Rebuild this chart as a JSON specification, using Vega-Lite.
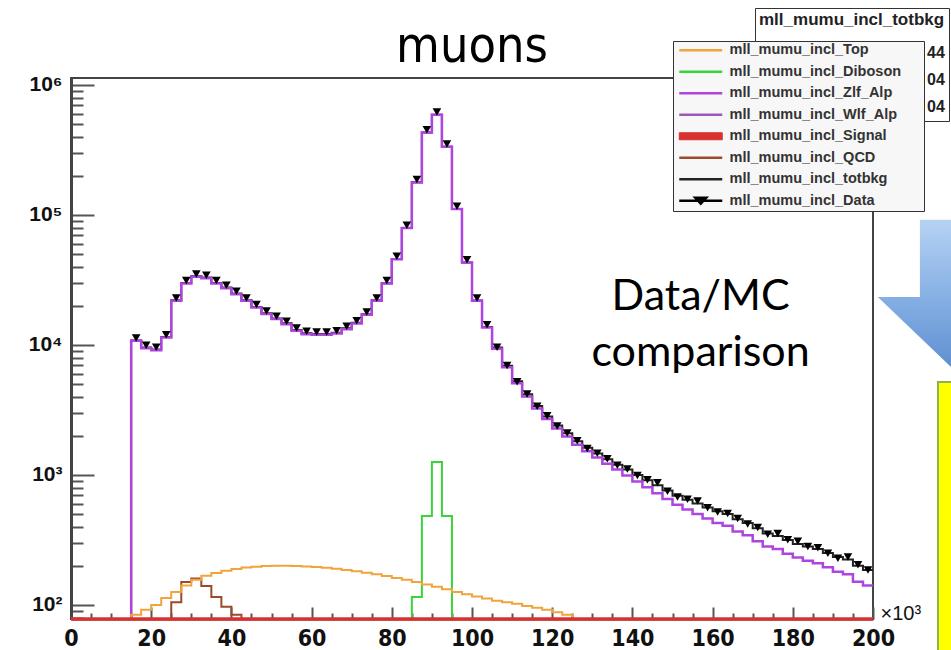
{
  "$schema": "https://vega.github.io/schema/vega-lite/v6.json",
  "width": 802,
  "height": 541,
  "autosize": {"type": "none"},
  "padding": {"left": 71, "top": 78, "right": 78, "bottom": 31},
  "background": "white",
  "title": {"text": "muons", "font": "DejaVu Sans Condensed, Liberation Sans Narrow, sans-serif", "fontSize": 50, "fontWeight": "normal", "color": "#000", "anchor": "middle", "frame": "group", "baseline": "alphabetic", "offset": 15, "dy": 119},
  "datasets": {
    "hist": [
      {"series":"mll_mumu_incl_Signal","x":0,"y":78},{"series":"mll_mumu_incl_Signal","x":200,"y":78},
      {"series":"mll_mumu_incl_QCD","x":25,"y":78},{"series":"mll_mumu_incl_QCD","x":25,"y":105},{"series":"mll_mumu_incl_QCD","x":27.5,"y":150},{"series":"mll_mumu_incl_QCD","x":30,"y":160},{"series":"mll_mumu_incl_QCD","x":32.5,"y":140},{"series":"mll_mumu_incl_QCD","x":35,"y":115},{"series":"mll_mumu_incl_QCD","x":37.5,"y":97},{"series":"mll_mumu_incl_QCD","x":40,"y":84},{"series":"mll_mumu_incl_QCD","x":42.5,"y":78},
      {"series":"mll_mumu_incl_Diboson","x":85,"y":78},{"series":"mll_mumu_incl_Diboson","x":85,"y":115},{"series":"mll_mumu_incl_Diboson","x":87.5,"y":484},{"series":"mll_mumu_incl_Diboson","x":90,"y":1260},{"series":"mll_mumu_incl_Diboson","x":92.5,"y":484},{"series":"mll_mumu_incl_Diboson","x":95,"y":78},
      {"series":"mll_mumu_incl_Top","x":15,"y":78},{"series":"mll_mumu_incl_Top","x":15,"y":84},{"series":"mll_mumu_incl_Top","x":17.5,"y":92},{"series":"mll_mumu_incl_Top","x":20,"y":100},{"series":"mll_mumu_incl_Top","x":22.5,"y":113},{"series":"mll_mumu_incl_Top","x":25,"y":126},{"series":"mll_mumu_incl_Top","x":27.5,"y":141},{"series":"mll_mumu_incl_Top","x":30,"y":156},{"series":"mll_mumu_incl_Top","x":32.5,"y":168},{"series":"mll_mumu_incl_Top","x":35,"y":176},{"series":"mll_mumu_incl_Top","x":37.5,"y":183},{"series":"mll_mumu_incl_Top","x":40,"y":189},{"series":"mll_mumu_incl_Top","x":42.5,"y":194},{"series":"mll_mumu_incl_Top","x":45,"y":197},{"series":"mll_mumu_incl_Top","x":47.5,"y":199},{"series":"mll_mumu_incl_Top","x":50,"y":200},{"series":"mll_mumu_incl_Top","x":52.5,"y":200},{"series":"mll_mumu_incl_Top","x":55,"y":199},{"series":"mll_mumu_incl_Top","x":57.5,"y":198},{"series":"mll_mumu_incl_Top","x":60,"y":196},{"series":"mll_mumu_incl_Top","x":62.5,"y":193},{"series":"mll_mumu_incl_Top","x":65,"y":190},{"series":"mll_mumu_incl_Top","x":67.5,"y":186},{"series":"mll_mumu_incl_Top","x":70,"y":182},{"series":"mll_mumu_incl_Top","x":72.5,"y":177},{"series":"mll_mumu_incl_Top","x":75,"y":172},{"series":"mll_mumu_incl_Top","x":77.5,"y":167},{"series":"mll_mumu_incl_Top","x":80,"y":161},{"series":"mll_mumu_incl_Top","x":82.5,"y":156},{"series":"mll_mumu_incl_Top","x":85,"y":150},{"series":"mll_mumu_incl_Top","x":87.5,"y":144},{"series":"mll_mumu_incl_Top","x":90,"y":138},{"series":"mll_mumu_incl_Top","x":92.5,"y":132},{"series":"mll_mumu_incl_Top","x":95,"y":126},{"series":"mll_mumu_incl_Top","x":97.5,"y":121},{"series":"mll_mumu_incl_Top","x":100,"y":116},{"series":"mll_mumu_incl_Top","x":102.5,"y":112},{"series":"mll_mumu_incl_Top","x":105,"y":108},{"series":"mll_mumu_incl_Top","x":107.5,"y":105},{"series":"mll_mumu_incl_Top","x":110,"y":102},{"series":"mll_mumu_incl_Top","x":112.5,"y":98},{"series":"mll_mumu_incl_Top","x":115,"y":95},{"series":"mll_mumu_incl_Top","x":117.5,"y":92},{"series":"mll_mumu_incl_Top","x":120,"y":88},{"series":"mll_mumu_incl_Top","x":122.5,"y":84},{"series":"mll_mumu_incl_Top","x":125,"y":78},
      {"series":"mll_mumu_incl_Zlf_Alp","x":15,"y":78},{"series":"mll_mumu_incl_Zlf_Alp","x":15,"y":10750},{"series":"mll_mumu_incl_Zlf_Alp","x":17.5,"y":9450},{"series":"mll_mumu_incl_Zlf_Alp","x":20,"y":9110},{"series":"mll_mumu_incl_Zlf_Alp","x":22.5,"y":11400},{"series":"mll_mumu_incl_Zlf_Alp","x":25,"y":21850},{"series":"mll_mumu_incl_Zlf_Alp","x":27.5,"y":29700},{"series":"mll_mumu_incl_Zlf_Alp","x":30,"y":33400},{"series":"mll_mumu_incl_Zlf_Alp","x":32.5,"y":32640},{"series":"mll_mumu_incl_Zlf_Alp","x":35,"y":29700},{"series":"mll_mumu_incl_Zlf_Alp","x":37.5,"y":27330},{"series":"mll_mumu_incl_Zlf_Alp","x":40,"y":24590},{"series":"mll_mumu_incl_Zlf_Alp","x":42.5,"y":21860},{"series":"mll_mumu_incl_Zlf_Alp","x":45,"y":19400},{"series":"mll_mumu_incl_Zlf_Alp","x":47.5,"y":17290},{"series":"mll_mumu_incl_Zlf_Alp","x":50,"y":15800},{"series":"mll_mumu_incl_Zlf_Alp","x":52.5,"y":14450},{"series":"mll_mumu_incl_Zlf_Alp","x":55,"y":12840},{"series":"mll_mumu_incl_Zlf_Alp","x":57.5,"y":12100},{"series":"mll_mumu_incl_Zlf_Alp","x":60,"y":11960},{"series":"mll_mumu_incl_Zlf_Alp","x":62.5,"y":11960},{"series":"mll_mumu_incl_Zlf_Alp","x":65,"y":12240},{"series":"mll_mumu_incl_Zlf_Alp","x":67.5,"y":13230},{"series":"mll_mumu_incl_Zlf_Alp","x":70,"y":14610},{"series":"mll_mumu_incl_Zlf_Alp","x":72.5,"y":17050},{"series":"mll_mumu_incl_Zlf_Alp","x":75,"y":21860},{"series":"mll_mumu_incl_Zlf_Alp","x":77.5,"y":29700},{"series":"mll_mumu_incl_Zlf_Alp","x":80,"y":45680},{"series":"mll_mumu_incl_Zlf_Alp","x":82.5,"y":79200},{"series":"mll_mumu_incl_Zlf_Alp","x":85,"y":177700},{"series":"mll_mumu_incl_Zlf_Alp","x":87.5,"y":430300},{"series":"mll_mumu_incl_Zlf_Alp","x":90,"y":588400},{"series":"mll_mumu_incl_Zlf_Alp","x":92.5,"y":334000},{"series":"mll_mumu_incl_Zlf_Alp","x":95,"y":110900},{"series":"mll_mumu_incl_Zlf_Alp","x":97.5,"y":43030},{"series":"mll_mumu_incl_Zlf_Alp","x":100,"y":21860},{"series":"mll_mumu_incl_Zlf_Alp","x":102.5,"y":13600},{"series":"mll_mumu_incl_Zlf_Alp","x":105,"y":9330},{"series":"mll_mumu_incl_Zlf_Alp","x":107.5,"y":6730},{"series":"mll_mumu_incl_Zlf_Alp","x":110,"y":5080},{"series":"mll_mumu_incl_Zlf_Alp","x":112.5,"y":4020},{"series":"mll_mumu_incl_Zlf_Alp","x":115,"y":3250},{"series":"mll_mumu_incl_Zlf_Alp","x":117.5,"y":2690},{"series":"mll_mumu_incl_Zlf_Alp","x":120,"y":2280},{"series":"mll_mumu_incl_Zlf_Alp","x":122.5,"y":1980},{"series":"mll_mumu_incl_Zlf_Alp","x":125,"y":1710},{"series":"mll_mumu_incl_Zlf_Alp","x":127.5,"y":1520},{"series":"mll_mumu_incl_Zlf_Alp","x":130,"y":1365},{"series":"mll_mumu_incl_Zlf_Alp","x":132.5,"y":1220},{"series":"mll_mumu_incl_Zlf_Alp","x":135,"y":1100},{"series":"mll_mumu_incl_Zlf_Alp","x":137.5,"y":990},{"series":"mll_mumu_incl_Zlf_Alp","x":140,"y":890},{"series":"mll_mumu_incl_Zlf_Alp","x":142.5,"y":804},{"series":"mll_mumu_incl_Zlf_Alp","x":145,"y":724},{"series":"mll_mumu_incl_Zlf_Alp","x":147.5,"y":653},{"series":"mll_mumu_incl_Zlf_Alp","x":150,"y":589},{"series":"mll_mumu_incl_Zlf_Alp","x":152.5,"y":543},{"series":"mll_mumu_incl_Zlf_Alp","x":155,"y":501},{"series":"mll_mumu_incl_Zlf_Alp","x":157.5,"y":462},{"series":"mll_mumu_incl_Zlf_Alp","x":160,"y":427},{"series":"mll_mumu_incl_Zlf_Alp","x":162.5,"y":407},{"series":"mll_mumu_incl_Zlf_Alp","x":165,"y":367},{"series":"mll_mumu_incl_Zlf_Alp","x":167.5,"y":343},{"series":"mll_mumu_incl_Zlf_Alp","x":170,"y":309},{"series":"mll_mumu_incl_Zlf_Alp","x":172.5,"y":282},{"series":"mll_mumu_incl_Zlf_Alp","x":175,"y":269},{"series":"mll_mumu_incl_Zlf_Alp","x":177.5,"y":248},{"series":"mll_mumu_incl_Zlf_Alp","x":180,"y":232},{"series":"mll_mumu_incl_Zlf_Alp","x":182.5,"y":219},{"series":"mll_mumu_incl_Zlf_Alp","x":185,"y":209},{"series":"mll_mumu_incl_Zlf_Alp","x":187.5,"y":195},{"series":"mll_mumu_incl_Zlf_Alp","x":190,"y":180},{"series":"mll_mumu_incl_Zlf_Alp","x":192.5,"y":172},{"series":"mll_mumu_incl_Zlf_Alp","x":195,"y":151},{"series":"mll_mumu_incl_Zlf_Alp","x":197.5,"y":141},{"series":"mll_mumu_incl_Zlf_Alp","x":200,"y":141},
      {"series":"mll_mumu_incl_totbkg","x":15,"y":78},{"series":"mll_mumu_incl_totbkg","x":15,"y":10830},{"series":"mll_mumu_incl_totbkg","x":17.5,"y":9540},{"series":"mll_mumu_incl_totbkg","x":20,"y":9210},{"series":"mll_mumu_incl_totbkg","x":22.5,"y":11510},{"series":"mll_mumu_incl_totbkg","x":25,"y":22080},{"series":"mll_mumu_incl_totbkg","x":27.5,"y":29990},{"series":"mll_mumu_incl_totbkg","x":30,"y":33720},{"series":"mll_mumu_incl_totbkg","x":32.5,"y":32950},{"series":"mll_mumu_incl_totbkg","x":35,"y":29990},{"series":"mll_mumu_incl_totbkg","x":37.5,"y":27610},{"series":"mll_mumu_incl_totbkg","x":40,"y":24860},{"series":"mll_mumu_incl_totbkg","x":42.5,"y":22050},{"series":"mll_mumu_incl_totbkg","x":45,"y":19600},{"series":"mll_mumu_incl_totbkg","x":47.5,"y":17490},{"series":"mll_mumu_incl_totbkg","x":50,"y":16000},{"series":"mll_mumu_incl_totbkg","x":52.5,"y":14650},{"series":"mll_mumu_incl_totbkg","x":55,"y":13040},{"series":"mll_mumu_incl_totbkg","x":57.5,"y":12300},{"series":"mll_mumu_incl_totbkg","x":60,"y":12160},{"series":"mll_mumu_incl_totbkg","x":62.5,"y":12150},{"series":"mll_mumu_incl_totbkg","x":65,"y":12430},{"series":"mll_mumu_incl_totbkg","x":67.5,"y":13420},{"series":"mll_mumu_incl_totbkg","x":70,"y":14790},{"series":"mll_mumu_incl_totbkg","x":72.5,"y":17230},{"series":"mll_mumu_incl_totbkg","x":75,"y":22030},{"series":"mll_mumu_incl_totbkg","x":77.5,"y":29870},{"series":"mll_mumu_incl_totbkg","x":80,"y":45840},{"series":"mll_mumu_incl_totbkg","x":82.5,"y":79360},{"series":"mll_mumu_incl_totbkg","x":85,"y":177970},{"series":"mll_mumu_incl_totbkg","x":87.5,"y":430930},{"series":"mll_mumu_incl_totbkg","x":90,"y":589800},{"series":"mll_mumu_incl_totbkg","x":92.5,"y":334620},{"series":"mll_mumu_incl_totbkg","x":95,"y":111030},{"series":"mll_mumu_incl_totbkg","x":97.5,"y":43150},{"series":"mll_mumu_incl_totbkg","x":100,"y":21980},{"series":"mll_mumu_incl_totbkg","x":102.5,"y":13710},{"series":"mll_mumu_incl_totbkg","x":105,"y":9550},{"series":"mll_mumu_incl_totbkg","x":107.5,"y":6920},{"series":"mll_mumu_incl_totbkg","x":110,"y":5250},{"series":"mll_mumu_incl_totbkg","x":112.5,"y":4170},{"series":"mll_mumu_incl_totbkg","x":115,"y":3390},{"series":"mll_mumu_incl_totbkg","x":117.5,"y":2820},{"series":"mll_mumu_incl_totbkg","x":120,"y":2400},{"series":"mll_mumu_incl_totbkg","x":122.5,"y":2090},{"series":"mll_mumu_incl_totbkg","x":125,"y":1820},{"series":"mll_mumu_incl_totbkg","x":127.5,"y":1620},{"series":"mll_mumu_incl_totbkg","x":130,"y":1460},{"series":"mll_mumu_incl_totbkg","x":132.5,"y":1320},{"series":"mll_mumu_incl_totbkg","x":135,"y":1200},{"series":"mll_mumu_incl_totbkg","x":137.5,"y":1100},{"series":"mll_mumu_incl_totbkg","x":140,"y":1000},{"series":"mll_mumu_incl_totbkg","x":142.5,"y":912},{"series":"mll_mumu_incl_totbkg","x":145,"y":832},{"series":"mll_mumu_incl_totbkg","x":147.5,"y":759},{"series":"mll_mumu_incl_totbkg","x":150,"y":692},{"series":"mll_mumu_incl_totbkg","x":152.5,"y":646},{"series":"mll_mumu_incl_totbkg","x":155,"y":603},{"series":"mll_mumu_incl_totbkg","x":157.5,"y":562},{"series":"mll_mumu_incl_totbkg","x":160,"y":525},{"series":"mll_mumu_incl_totbkg","x":162.5,"y":501},{"series":"mll_mumu_incl_totbkg","x":165,"y":457},{"series":"mll_mumu_incl_totbkg","x":167.5,"y":427},{"series":"mll_mumu_incl_totbkg","x":170,"y":389},{"series":"mll_mumu_incl_totbkg","x":172.5,"y":355},{"series":"mll_mumu_incl_totbkg","x":175,"y":339},{"series":"mll_mumu_incl_totbkg","x":177.5,"y":316},{"series":"mll_mumu_incl_totbkg","x":180,"y":295},{"series":"mll_mumu_incl_totbkg","x":182.5,"y":282},{"series":"mll_mumu_incl_totbkg","x":185,"y":269},{"series":"mll_mumu_incl_totbkg","x":187.5,"y":251},{"series":"mll_mumu_incl_totbkg","x":190,"y":234},{"series":"mll_mumu_incl_totbkg","x":192.5,"y":224},{"series":"mll_mumu_incl_totbkg","x":195,"y":200},{"series":"mll_mumu_incl_totbkg","x":197.5,"y":186},{"series":"mll_mumu_incl_totbkg","x":200,"y":186}
    ],
    "points": [
      {"x":16.25,"y":11320},{"x":18.75,"y":9950},{"x":21.25,"y":9590},{"x":23.75,"y":12000},{"x":26.25,"y":23000},{"x":28.75,"y":31260},{"x":31.25,"y":35160},{"x":33.75,"y":34360},{"x":36.25,"y":31260},{"x":38.75,"y":28770},{"x":41.25,"y":25880},{"x":43.75,"y":23010},{"x":46.25,"y":20420},{"x":48.75,"y":18200},{"x":51.25,"y":16630},{"x":53.75,"y":15210},{"x":56.25,"y":13520},{"x":58.75,"y":12740},{"x":61.25,"y":12590},{"x":63.75,"y":12590},{"x":66.25,"y":12880},{"x":68.75,"y":13930},{"x":71.25,"y":15380},{"x":73.75,"y":17950},{"x":76.25,"y":23010},{"x":78.75,"y":31260},{"x":81.25,"y":48080},{"x":83.75,"y":83370},{"x":86.25,"y":187100},{"x":88.75,"y":452900},{"x":91.25,"y":619400},{"x":93.75,"y":351600},{"x":96.25,"y":116700},{"x":98.75,"y":45290},{"x":101.25,"y":23010},{"x":103.75,"y":14320},
      {"x":106.25,"y":9600},{"x":108.75,"y":6950},{"x":111.25,"y":5200},{"x":113.75,"y":4200},{"x":116.25,"y":3380},{"x":118.75,"y":2850},{"x":121.25,"y":2380},{"x":123.75,"y":2100},{"x":126.25,"y":1830},{"x":128.75,"y":1600},{"x":131.25,"y":1470},{"x":133.75,"y":1330},{"x":136.25,"y":1190},{"x":138.75,"y":1110},{"x":141.25,"y":990},{"x":143.75,"y":920},{"x":146.25,"y":871},{"x":148.75,"y":750},{"x":151.25,"y":676},{"x":153.75,"y":650},{"x":156.25,"y":631},{"x":158.75,"y":560},{"x":161.25,"y":520},{"x":163.75,"y":505},{"x":166.25,"y":462},{"x":168.75,"y":420},{"x":171.25,"y":395},{"x":173.75,"y":350},{"x":176.25,"y":355},{"x":178.75,"y":318},{"x":181.25,"y":309},{"x":183.75,"y":282},{"x":186.25,"y":275},{"x":188.75,"y":250},{"x":191.25,"y":229},{"x":193.75,"y":234},{"x":196.25,"y":204},{"x":198.75,"y":186}
    ],
    "stats": [{"stat": "Entries"}, {"stat": "Mean"}, {"stat": "RMS"}],
    "note": [{"label": "Data/MC\ncomparison", "x": 157, "y": 18600}],
    "arrowBody": [{"x": 211.7, "x2": 230, "y": 91600, "y2": 23400}],
    "arrowHead": [{"x": 201.2, "y": 23400, "y2": 23400}, {"x": 230, "y": 23400, "y2": 3300}],
    "yellow": [{"x": 216.2, "x2": 230, "y": 5190, "y2": 40}]
  },
  "layer": [
    {
      "data": {"name": "yellow"},
      "mark": {"type": "rect", "fill": "#ffff00", "stroke": "#8fb04c", "strokeWidth": 2},
      "encoding": {
        "x": {"field": "x", "type": "quantitative", "scale": {"domain": [0, 200], "nice": false}},
        "x2": {"field": "x2"},
        "y": {"field": "y", "type": "quantitative", "scale": {"type": "log", "domain": [78, 1130000], "nice": false}},
        "y2": {"field": "y2"}
      }
    },
    {
      "data": {"name": "arrowBody"},
      "mark": {"type": "rect", "color": {"gradient": "linear", "x1": 0, "y1": 0, "x2": 0, "y2": 1, "stops": [{"offset": 0, "color": "#b6d2f3"}, {"offset": 1, "color": "#86b0e4"}]}},
      "encoding": {
        "x": {"field": "x", "type": "quantitative", "scale": {"domain": [0, 200], "nice": false}},
        "x2": {"field": "x2"},
        "y": {"field": "y", "type": "quantitative", "scale": {"type": "log", "domain": [78, 1130000], "nice": false}},
        "y2": {"field": "y2"}
      }
    },
    {
      "data": {"name": "arrowHead"},
      "mark": {"type": "area", "color": {"gradient": "linear", "x1": 0, "y1": 0, "x2": 0, "y2": 1, "stops": [{"offset": 0, "color": "#86b0e4"}, {"offset": 1, "color": "#4a7dc6"}]}},
      "encoding": {
        "x": {"field": "x", "type": "quantitative", "scale": {"domain": [0, 200], "nice": false}},
        "y": {"field": "y", "type": "quantitative", "scale": {"type": "log", "domain": [78, 1130000], "nice": false}},
        "y2": {"field": "y2"}
      }
    },
    {
      "data": {"name": "hist"},
      "transform": [{"filter": "datum.series === 'mll_mumu_incl_totbkg'"}],
      "mark": {"type": "line", "interpolate": "step-after", "strokeWidth": 2},
      "encoding": {
        "x": {"field": "x", "type": "quantitative", "scale": {"domain": [0, 200], "nice": false},
          "axis": {"orient": "bottom", "tickCount": 500, "values": [0,5,10,15,20,25,30,35,40,45,50,55,60,65,70,75,80,85,90,95,100,105,110,115,120,125,130,135,140,145,150,155,160,165,170,175,180,185,190,195,200],
            "format": "d", "labelExpr": "indexof([0,20,40,60,80,100,120,140,160,180,200], datum.value) >= 0 ? datum.label : ''",
            "tickSize": {"condition": {"test": "indexof([0,20,40,60,80,100,120,140,160,180,200], datum.value) >= 0", "value": -12}, "value": -6},
            "tickColor": "#555", "tickWidth": 2, "domainColor": "#444", "domainWidth": 2, "grid": false,
            "labelFont": "Liberation Sans Narrow, DejaVu Sans Condensed, sans-serif", "labelFontWeight": "bold", "labelFontSize": 23, "labelColor": "#111",
            "labelPadding": 20, "labelFlush": false, "labelOverlap": false, "labelBound": false, "labelSeparation": 0,
            "title": "×10³", "titleX": 809, "titleY": 0, "titleAlign": "left", "titleBaseline": "alphabetic", "titleAngle": 0,
            "titleFont": "Liberation Sans", "titleFontSize": 20, "titleFontWeight": "normal", "titleColor": "#111"}},
        "y": {"field": "y", "type": "quantitative", "scale": {"type": "log", "domain": [78, 1130000], "nice": false},
          "axis": {"orient": "left", "tickCount": 500, "values": [80,90,100,200,300,400,500,600,700,800,900,1000,2000,3000,4000,5000,6000,7000,8000,9000,10000,20000,30000,40000,50000,60000,70000,80000,90000,100000,200000,300000,400000,500000,600000,700000,800000,900000,1000000],
            "labelExpr": "datum.value == 100 ? '10²' : datum.value == 1000 ? '10³' : datum.value == 10000 ? '10⁴' : datum.value == 100000 ? '10⁵' : datum.value == 1000000 ? '10⁶' : ''",
            "tickSize": {"condition": {"test": "datum.value == 100 || datum.value == 1000 || datum.value == 10000 || datum.value == 100000 || datum.value == 1000000", "value": -23}, "value": -12},
            "tickColor": "#555", "tickWidth": 2, "domainColor": "#444", "domainWidth": 3, "grid": false,
            "labelFont": "Liberation Sans", "labelFontWeight": "bold", "labelFontSize": 21, "labelColor": "#111",
            "labelPadding": 32, "labelFlush": false, "labelOverlap": false, "labelBound": false, "labelBaseline": "middle",
            "title": null}},
        "color": {"field": "series", "type": "nominal",
          "scale": {"domain": ["mll_mumu_incl_Top", "mll_mumu_incl_Diboson", "mll_mumu_incl_Zlf_Alp", "mll_mumu_incl_Wlf_Alp", "mll_mumu_incl_Signal", "mll_mumu_incl_QCD", "mll_mumu_incl_totbkg", "mll_mumu_incl_Data"],
                    "range": ["#f0a43a", "#3ad43a", "#ae45de", "#9a59b5", "#d93030", "#9b4a2c", "#222222", "#000000"]},
          "legend": {"orient": "none", "legendX": 602, "legendY": -37, "title": "xxx", "titleOrient": "right", "titleColor": "transparent", "titleFontSize": 12, "titlePadding": 0,
            "padding": 2, "rowPadding": 6.5,
            "symbolSize": 400, "symbolType": "M-0.3,0H4", "labelOffset": 40,
            "labelFont": "Liberation Sans", "labelFontSize": 14.5, "labelFontWeight": "bold", "labelColor": "#333", "labelLimit": 400,
            "fillColor": "#f7f7f7", "strokeColor": "#333", "zindex": 2,
            "encode": {"symbols": {"update": {
              "shape": {"signal": "datum.value === 'mll_mumu_incl_Data' ? 'M-0.3,0H4M1.3,-0.3L2.4,-0.3L1.85,0.3Z' : datum.value === 'mll_mumu_incl_Signal' ? 'M-0.3,-0.35H4V0.35H-0.3Z' : 'M-0.3,0H4'"},
              "fill": {"signal": "datum.value === 'mll_mumu_incl_Data' ? '#000' : datum.value === 'mll_mumu_incl_Signal' ? '#e04545' : 'transparent'"},
              "stroke": {"scale": "color", "field": "value"},
              "strokeWidth": {"signal": "datum.value === 'mll_mumu_incl_Signal' ? 1 : 2.5"},
              "opacity": {"value": 1}
            }}}
          }}
      }
    },
    {
      "data": {"name": "hist"},
      "transform": [{"filter": "datum.series === 'mll_mumu_incl_Zlf_Alp'"}],
      "mark": {"type": "line", "interpolate": "step-after", "strokeWidth": 2.5},
      "encoding": {
        "x": {"field": "x", "type": "quantitative", "scale": {"domain": [0, 200], "nice": false}},
        "y": {"field": "y", "type": "quantitative", "scale": {"type": "log", "domain": [78, 1130000], "nice": false}},
        "color": {"field": "series", "type": "nominal"}
      }
    },
    {
      "data": {"name": "hist"},
      "transform": [{"filter": "datum.series === 'mll_mumu_incl_Top' || datum.series === 'mll_mumu_incl_QCD' || datum.series === 'mll_mumu_incl_Diboson'"}],
      "mark": {"type": "line", "interpolate": "step-after", "strokeWidth": 2},
      "encoding": {
        "x": {"field": "x", "type": "quantitative", "scale": {"domain": [0, 200], "nice": false}},
        "y": {"field": "y", "type": "quantitative", "scale": {"type": "log", "domain": [78, 1130000], "nice": false}},
        "color": {"field": "series", "type": "nominal"}
      }
    },
    {
      "data": {"name": "hist"},
      "transform": [{"filter": "datum.series === 'mll_mumu_incl_Signal'"}],
      "mark": {"type": "line", "strokeWidth": 3.5},
      "encoding": {
        "x": {"field": "x", "type": "quantitative", "scale": {"domain": [0, 200], "nice": false}},
        "y": {"field": "y", "type": "quantitative", "scale": {"type": "log", "domain": [78, 1130000], "nice": false}},
        "color": {"field": "series", "type": "nominal"}
      }
    },
    {
      "data": {"name": "points"},
      "mark": {"type": "point", "shape": "triangle-down", "filled": true, "size": 75, "opacity": 1},
      "encoding": {
        "x": {"field": "x", "type": "quantitative", "scale": {"domain": [0, 200], "nice": false}},
        "y": {"field": "y", "type": "quantitative", "scale": {"type": "log", "domain": [78, 1130000], "nice": false}},
        "color": {"datum": "mll_mumu_incl_Data", "type": "nominal"}
      }
    },
    {
      "data": {"name": "note"},
      "mark": {"type": "text", "font": "Lato, Open Sans, sans-serif", "fontSize": 43, "align": "center", "baseline": "alphabetic", "lineBreak": "\n", "lineHeight": 56, "color": "#000"},
      "encoding": {
        "x": {"field": "x", "type": "quantitative", "scale": {"domain": [0, 200], "nice": false}},
        "y": {"field": "y", "type": "quantitative", "scale": {"type": "log", "domain": [78, 1130000], "nice": false}},
        "text": {"field": "label"}
      }
    },
    {
      "data": {"name": "stats"},
      "mark": {"type": "point", "opacity": 0},
      "encoding": {
        "shape": {"field": "stat", "type": "nominal", "scale": {"domain": ["Entries", "Mean", "RMS"]},
          "legend": {"orient": "none", "legendX": 684, "legendY": -70, "title": "mll_mumu_incl_totbkg", "titleLimit": 500,
            "titleFont": "Liberation Sans", "titleFontSize": 17, "titleFontWeight": "bold", "titleColor": "#222", "titlePadding": 13,
            "padding": 4, "rowPadding": 5, "symbolSize": 484, "symbolOpacity": 0, "symbolStrokeWidth": 0, "labelOffset": 146,
            "labelExpr": "datum.label == 'Entries' ? '44' : '04'",
            "labelFont": "Liberation Sans", "labelFontSize": 16, "labelFontWeight": "bold", "labelColor": "#222",
            "fillColor": "#ffffff", "strokeColor": "#333", "zindex": 1}}
      }
    }
  ],
  "config": {
    "view": {"stroke": "#444", "strokeWidth": 2},
    "axis": {"grid": false}
  }
}
